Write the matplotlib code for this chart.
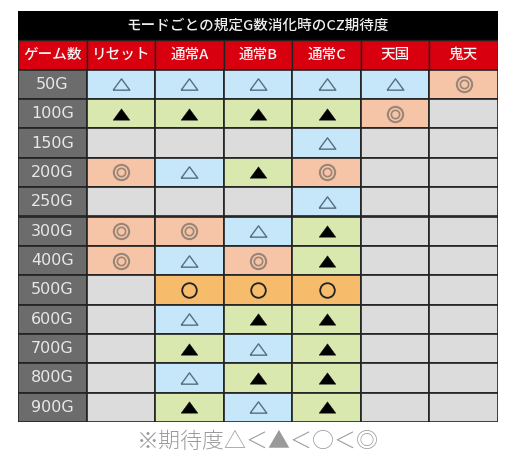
import matplotlib
matplotlib.use('agg')
import matplotlib.pyplot as plt
from matplotlib.patches import Rectangle

plt.rcParams['font.family'] = ['Noto Sans CJK JP', 'DejaVu Sans']

title = 'モードごとの規定G数消化時のCZ期待度'
note = '※期待度△＜▲＜○＜◎'
headers = ['ゲーム数', 'リセット', '通常A', '通常B', '通常C', '天国', '鬼天']
games = ['50G', '100G', '150G', '200G', '250G', '300G', '400G', '500G', '600G', '700G', '800G', '900G']

# one list per mode, top row first ('' = no mark)
reset = ['t', 'T', '', 'd', '', 'd', 'd', '', '', '', '', '']
mode_a = ['t', 'T', '', 't', '', 'd', 't', 'o', 't', 'T', 't', 'T']
mode_b = ['t', 'T', '', 'T', '', 't', 'd', 'o', 'T', 't', 'T', 't']
mode_c = ['t', 'T', 't', 'd', 't', 'T', 'T', 'o', 'T', 'T', 'T', 'T']
tengoku = ['t', 'd', '', '', '', '', '', '', '', '', '', '']
kiten = ['d', '', '', '', '', '', '', '', '', '', '', '']
modes = [reset, mode_a, mode_b, mode_c, tengoku, kiten]

fills = {'t': '#c6e6fa', 'T': '#d9e8af', 'd': '#f6c5a8', 'o': '#f6bc6c', '': '#dcdcdc'}

# wide, flat triangle like the one in the picture
flat_tri = [(-1, -0.68), (1, -0.68), (0, 0.68), (-1, -0.68)]

W, H = 512, 463
fig = plt.figure(figsize=(W / 100, H / 100), dpi=100)
# axes sits on the table: x in columns, y in rows (title = -2, header = -1)
ax = fig.add_axes([18 / W, 1 - 422 / H, 480 / W, 411 / H])
ax.set_xlim(0, 7)
ax.set_ylim(12, -2)
ax.axis('off')

ink = '#222222'
ax.add_patch(Rectangle((0, -2), 7, 1, fc='black', ec='none'))
ax.text(3.5, -1.5, title, color='#eeeeee', ha='center', va='center', fontsize=10.5, fontweight='medium')

for c, h in enumerate(headers):
    ax.add_patch(Rectangle((c, -1), 1, 1, fc='#d8000f', ec=ink, lw=1))
    ax.text(c + 0.5, -0.5, h, color='#f4f4f4', ha='center', va='center', fontsize=10.5, fontweight='medium')

for r, g in enumerate(games):
    ax.add_patch(Rectangle((0, r), 1, 1, fc='#6c6c6c', ec=ink, lw=1.2))
    ax.text(0.5, r + 0.5, g, color='#e8e8e8', ha='center', va='center', fontsize=11.5, fontfamily='DejaVu Sans')

for c, marks in enumerate(modes):
    for r, m in enumerate(marks):
        ax.add_patch(Rectangle((c + 1, r), 1, 1, fc=fills[m], ec=ink, lw=1.2))
        x, y = c + 1.5, r + 0.5
        if m == 't':
            ax.plot(x, y, marker=flat_tri, ms=12, mfc='none', mec='#55707f', mew=1)
        elif m == 'T':
            ax.plot(x, y, marker=flat_tri, ms=12, mfc='black', mec='black', mew=0.3)
        elif m == 'o':
            ax.plot(x, y, 'o', ms=10.5, mfc='none', mec='#222222', mew=1.3)
        elif m == 'd':
            ax.plot(x, y, 'o', ms=11, mfc='none', mec='#9a8577', mew=1.5)
            ax.plot(x, y, 'o', ms=6, mfc='none', mec='#9a8577', mew=1.2)

ax.text(3.5, 12.68, note, color='#9a9a9a', ha='center', va='center', fontsize=15.8, fontweight='light', clip_on=False)

fig.savefig('out.png', dpi=100, facecolor='white')
